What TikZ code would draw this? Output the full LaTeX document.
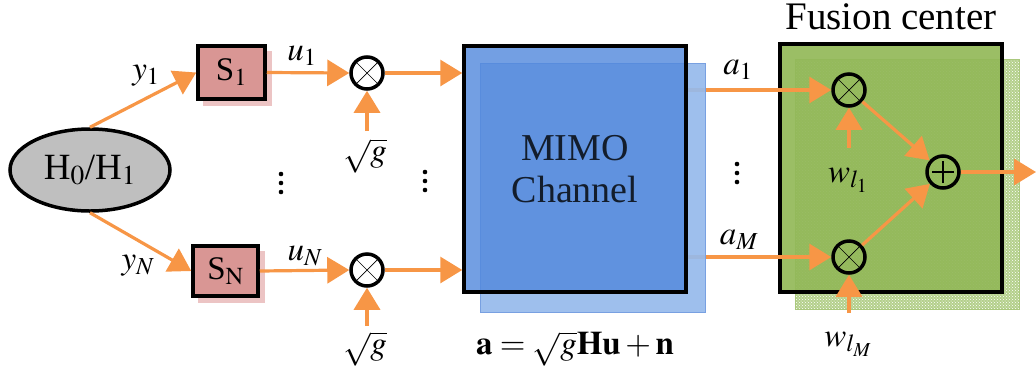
\documentclass[tikz,border=0pt]{standalone}
\usepackage{mathptmx}
\usepackage{fontspec}
\setmainfont{Liberation Serif}
\usetikzlibrary{arrows.meta,shapes.geometric,patterns}

\definecolor{sigorange}{RGB}{247,150,70}
\definecolor{srcgray}{RGB}{191,191,191}
\definecolor{sensorpink}{RGB}{217,150,148}
\definecolor{sensorshadow}{RGB}{236,196,196}
\definecolor{chanfront}{RGB}{80,135,220}
\definecolor{chanback}{RGB}{150,186,236}
\definecolor{chanedge}{RGB}{120,160,225}
\definecolor{fusefront}{RGB}{146,184,88}
\definecolor{fuseback}{RGB}{180,208,140}
\definecolor{fuseedge}{RGB}{170,200,125}

\tikzset{
  txt/.style={font=\fontsize{33}{38}\selectfont, inner sep=0pt},
  sig/.style={draw=sigorange, line width=3.2pt, -{Triangle[length=22pt,width=26pt]}},
  mult/.style={circle, draw, line width=3.5pt, minimum size=32pt, inner sep=0pt,
    path picture={\draw[line width=0.7pt]
      (path picture bounding box.north west) -- (path picture bounding box.south east)
      (path picture bounding box.north east) -- (path picture bounding box.south west);}},
  adder/.style={circle, draw, line width=3.5pt, minimum size=32pt, inner sep=0pt,
    path picture={\draw[line width=2pt]
      ([yshift=-11pt]path picture bounding box.center) -- ([yshift=11pt]path picture bounding box.center)
      ([xshift=-11pt]path picture bounding box.center) -- ([xshift=11pt]path picture bounding box.center);}},
  sensor/.style={draw, line width=3.5pt, fill=sensorpink, inner sep=0pt, font=\fontsize{33}{38}\selectfont},
  dot/.style={fill=black},
}
% three stacked dots (vertical ellipsis)
\newcommand{\vdotsat}[1]{%
  \fill #1 +(0,-9) circle (2.3) +(0,0) circle (2.3) +(0,9) circle (2.3);}

\begin{document}
\begin{tikzpicture}[x=1pt,y=-1pt]
\useasboundingbox (0,0) rectangle (1036,376);

% hypothesis source
\node[ellipse, draw, line width=3.5pt, fill=srcgray, minimum width=160pt, minimum height=82pt,
  inner sep=0pt, font=\fontsize{37}{42}\selectfont] (H) at (90,170) {H$_0$/H$_1$};

% sensors with drop shadows
\fill[sensorshadow] (203,51) rectangle (272,106);
\node[sensor, minimum width=67pt, minimum height=53pt] (S1) at (231.5,72.5) {S$_1$};
\fill[sensorshadow] (198,251) rectangle (265,303);
\node[sensor, minimum width=65pt, minimum height=50pt] (SN) at (225.5,271) {S$_\mathrm{N}$};

\draw[sig] (H.north) -- (S1.west);
\draw[sig] (H.south) -- (SN.west);
\node[txt] (ly1) at (146,76) {$y_1$};
\node[txt] (lyN) at (138,266) {$y_N$};

% power scaling
\node[mult] (m1) at (367,73) {};
\node[mult] (mN) at (367,270) {};
\draw[sig] (S1.east) -- (m1.west);
\draw[sig] (SN.east) -- (mN.west);
\node[txt] (lu1) at (302,56) {$u_1$};
\node[txt] (luN) at (305,256) {$u_N$};
\coordinate (g1) at (367,131);
\coordinate (gN) at (367,326);
\draw[sig] (g1) -- (m1.south);
\draw[sig] (gN) -- (mN.south);
\node[txt] (lg1) at (365,156) {$\sqrt{g}$};
\node[txt] (lgN) at (365,349) {$\sqrt{g}$};

\vdotsat{(281,183)}
\vdotsat{(425,181)}
\vdotsat{(737,173)}

% fusion center boxes
\node[draw=fuseedge, line width=1pt, pattern=crosshatch dots, pattern color=white,
  preaction={fill=fuseback}, minimum width=224pt, minimum height=250pt,
  inner sep=0pt] (FCb) at (907.5,184.5) {};
\node[draw, line width=3.5pt, fill=fusefront, fill opacity=0.92, minimum width=222pt, minimum height=248pt,
  inner sep=0pt] (FC) at (891,168) {};
\node[inner sep=0pt, font=\fontsize{39}{44}\selectfont] (lFC) at (891,17) {Fusion center};

% channel outputs into the fusion center
\coordinate (o1) at (687,90);
\coordinate (oM) at (687,257);
\node[mult] (f1) at (849,90) {};
\node[mult] (fM) at (849,257) {};
\node[adder] (sum) at (943,172) {};
\draw[sig] (o1) -- (f1.west);
\draw[sig] (oM) -- (fM.west);
\node[txt] (la1) at (738,70) {$a_1$};
\node[txt] (laM) at (739,240) {$a_M$};

% MIMO channel boxes
\node[draw=chanedge, line width=1pt, fill=chanback, fill opacity=0.92, minimum width=225pt, minimum height=249pt,
  inner sep=0pt] (CHb) at (592.5,187.5) {};
\node[draw, line width=3.5pt, fill=chanfront, fill opacity=0.8, minimum width=222pt, minimum height=246pt,
  inner sep=0pt, align=center, font=\fontsize{38}{44}\selectfont] (CH) at (575,169) {MIMO\\[-2pt]Channel};
\draw[sig] (m1.east) -- (CH.west |- m1.east);
\draw[sig] (mN.east) -- (CH.west |- mN.east);
\node[txt] (leq) at (575,349) {$\mathbf{a}=\sqrt{g}\mathbf{Hu}+\mathbf{n}$};

% weighting and combining
\coordinate (w1) at (849,148);
\coordinate (wM) at (849,313);
\draw[sig] (w1) -- (f1.south);
\draw[sig] (wM) -- (fM.south);
\node[txt] (lw1) at (848,180) {$w_{l_1}$};
\node[txt] (lwM) at (848,344) {$w_{l_M}$};
\draw[sig] (f1) -- (sum);
\draw[sig] (fM) -- (sum);
\coordinate (out) at (1036,172);
\draw[sig] (sum.east) -- (out);
\end{tikzpicture}
\end{document}
